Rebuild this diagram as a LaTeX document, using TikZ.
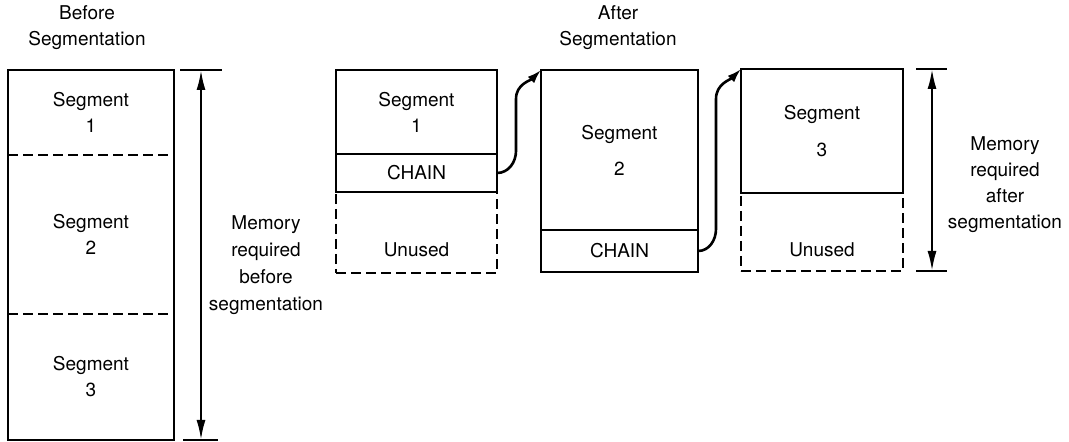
\documentclass[tikz,border=0pt]{standalone}
\usepackage{fontspec}
\setmainfont{TeX Gyre Heros}
\usetikzlibrary{arrows.meta}
\newcommand{\segfont}{\fontsize{9.5}{13}\selectfont}
\tikzstyle{cell} = [anchor=north west, inner sep=0pt, outer sep=0pt, align=center, font=\segfont]
\tikzstyle{outline} = [line width=1.4pt]
\tikzstyle{gap} = [line width=1.3pt, dash pattern=on 5pt off 2.5pt]
\tikzstyle{chainarrow} = [line width=1.3pt, -{Latex[length=7pt,width=4.5pt]}]
\tikzstyle{dimarrow} = [line width=1.1pt, {Latex[length=10pt,width=4.5pt]}-{Latex[length=10pt,width=4.5pt]}]
\tikzstyle{caption} = [align=center, font=\segfont]

\begin{document}
\begin{tikzpicture}[x=0.5pt, y=-0.5pt]
    \useasboundingbox (0,0) rectangle (1069,442);
    % before segmentation
    \node[caption] (pretitle) at (87,28) {Before\\Segmentation};
    \node[cell, minimum width=83pt, minimum height=42.5pt] (pre1) at (8,70) {Segment\\1};
    \node[cell, minimum width=83pt, minimum height=79.5pt] (pre2) at (pre1.south west) {Segment\\2};
    \node[cell, minimum width=83pt, minimum height=63pt] (pre3) at (pre2.south west) {Segment\\3};
    \draw[outline] (pre1.north west) rectangle (pre3.south east);
    \draw[gap] (pre1.south west) -- (pre1.south east);
    \draw[gap] (pre2.south west) -- (pre2.south east);
    \coordinate (pretop) at (201,70);
    \coordinate (prebot) at (201,440);
    \draw[dimarrow] (pretop) -- (prebot);
    \draw[outline] ([xshift=-10.5pt]pretop) -- ([xshift=10.5pt]pretop);
    \draw[outline] ([xshift=-9pt]prebot) -- ([xshift=8.5pt]prebot);
    \node[caption, font=\fontsize{9.5}{13.5}\selectfont] (premem) at (266,265) {Memory\\required\\before\\segmentation};
    % after segmentation
    \node[caption] (posttitle) at (618,28) {After\\Segmentation};
    % first part
    \node[cell, minimum width=80.5pt, minimum height=40.5pt, draw, gap] (un1) at (336,192) {};
    \node[cell, minimum width=80.5pt, minimum height=42pt, draw, outline] (sa1) at (336,70) {Segment\\1};
    \node[cell, minimum width=80.5pt, minimum height=19pt, draw, outline] (ch1) at (sa1.south west) {CHAIN};
    \node[font=\segfont] (un1txt) at ([yshift=11.5pt]un1.south) {Unused};
    % second part
    \node[cell, minimum width=78.5pt, minimum height=80pt, draw, outline] (sa2) at (541,70) {Segment\\[5pt]2};
    \node[cell, minimum width=78.5pt, minimum height=21pt, draw, outline] (ch2) at (sa2.south west) {CHAIN};
    % third part
    \node[cell, minimum width=81pt, minimum height=39pt, draw, gap] (un3) at (741,193) {};
    \node[cell, minimum width=81pt, minimum height=62pt, draw, outline] (sa3) at (741,69) {Segment\\[5.5pt]3};
    \node[font=\segfont] (un3txt) at ([yshift=10.5pt]un3.south) {Unused};
    % chain links
    \draw[chainarrow] (ch1.east) to[out=0,in=-90] ++(19,-22) -- ++(0,-52) to[out=90,in=-135] (sa2.north west);
    \draw[chainarrow] (ch2.east) to[out=0,in=-90] ++(18,-22) -- ++(0,-130) to[out=90,in=-135] (sa3.north west);
    % memory after
    \coordinate (posttop) at (932,69);
    \coordinate (postbot) at (932,271);
    \draw[dimarrow] (posttop) -- (postbot);
    \draw[outline] ([xshift=-8pt]posttop) -- ([xshift=7.5pt]posttop);
    \draw[outline] ([xshift=-8pt]postbot) -- ([xshift=7.5pt]postbot);
    \node[caption] (postmem) at (1005,185) {Memory\\required\\after\\segmentation};
\end{tikzpicture}
\end{document}
